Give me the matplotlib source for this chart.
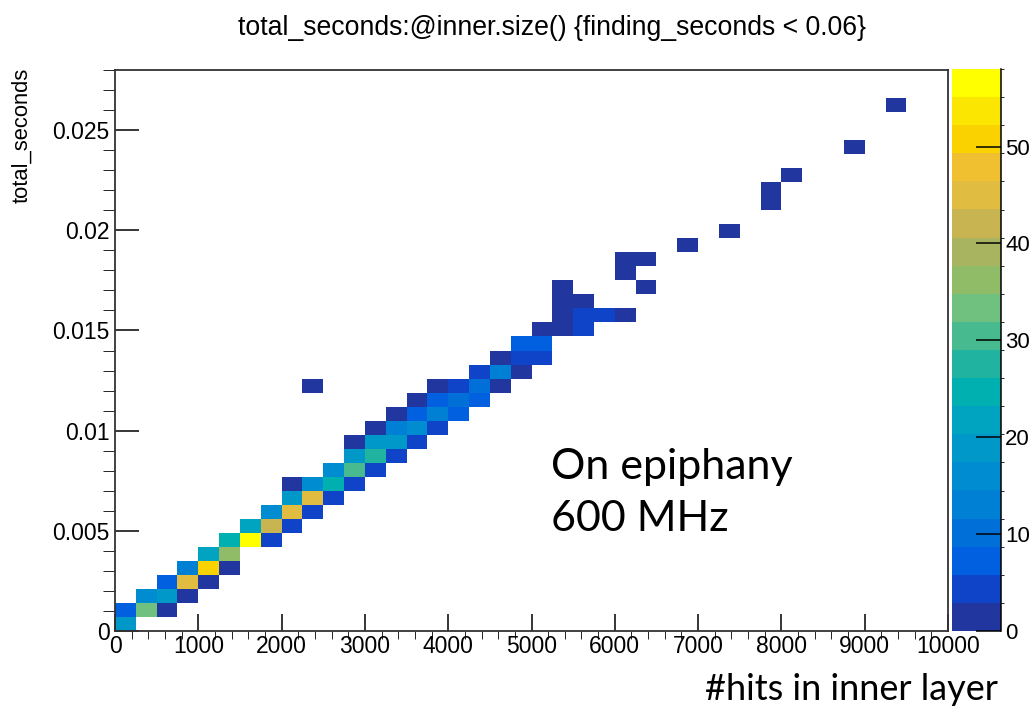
import matplotlib
matplotlib.use("Agg")
import matplotlib.pyplot as plt
import numpy as np
from matplotlib.colors import ListedColormap, BoundaryNorm
from matplotlib.ticker import MultipleLocator, FuncFormatter

# 2D histogram content: bin centres and entries
hits = (
    [125, 125, 375, 375, 625, 625, 625, 875, 875, 875, 1125, 1125, 1125,
     1375, 1375, 1375, 1625, 1625, 1875, 1875, 1875, 2125, 2125, 2125, 2125,
     2375, 2375, 2375, 2375, 2625, 2625, 2625, 2875, 2875, 2875, 2875,
     3125, 3125, 3125, 3125, 3375, 3375, 3375, 3375, 3625, 3625, 3625, 3625,
     3875, 3875, 3875, 3875, 4125, 4125, 4125, 4375, 4375, 4375,
     4625, 4625, 4625, 4875, 4875, 4875, 5125, 5125, 5125,
     5375, 5375, 5375, 5375, 5625, 5625, 5625, 5875, 6125, 6125, 6125,
     6375, 6375, 6875, 7375, 7875, 7875, 8125, 8875, 9375]
)
seconds = (
    [0.00035, 0.00105, 0.00105, 0.00175, 0.00105, 0.00175, 0.00245,
     0.00175, 0.00245, 0.00315, 0.00245, 0.00315, 0.00385,
     0.00315, 0.00385, 0.00455, 0.00455, 0.00525, 0.00455, 0.00525, 0.00595,
     0.00525, 0.00595, 0.00665, 0.00735,
     0.00595, 0.00665, 0.00735, 0.01225, 0.00665, 0.00735, 0.00805,
     0.00735, 0.00805, 0.00875, 0.00945,
     0.00805, 0.00875, 0.00945, 0.01015, 0.00875, 0.00945, 0.01015, 0.01085,
     0.00945, 0.01015, 0.01085, 0.01155,
     0.01015, 0.01085, 0.01155, 0.01225, 0.01085, 0.01155, 0.01225,
     0.01155, 0.01225, 0.01295, 0.01225, 0.01295, 0.01365,
     0.01295, 0.01365, 0.01435, 0.01365, 0.01435, 0.01505,
     0.01505, 0.01575, 0.01645, 0.01715, 0.01505, 0.01575, 0.01645,
     0.01575, 0.01575, 0.01785, 0.01855, 0.01715, 0.01855,
     0.01925, 0.01995, 0.02135, 0.02205, 0.02275, 0.02415, 0.02625]
)
entries = (
    [19, 7, 33, 15, 2, 19, 7, 2, 46, 13, 2, 51, 21,
     2, 36, 24, 58, 21, 4, 42, 15, 4, 46, 19, 2,
     4, 46, 15, 1, 4, 24, 16, 4, 30, 19, 2,
     4, 27, 19, 2, 4, 19, 13, 2, 5, 15, 8, 2,
     4, 13, 8, 2, 8, 9, 4, 8, 11, 4,
     2, 13, 2, 1, 4, 7, 4, 7, 2,
     2, 2, 1, 1, 4, 4, 1, 4, 1, 1, 1,
     1, 1, 1, 1, 1, 1, 1, 1, 1]
)

x_edges = np.linspace(0, 10000, 41)
y_edges = np.linspace(0, 0.028, 41)
z_max = 58
n_levels = 20

# ROOT-like bird palette, bottom to top
palette = ['#2236a0', '#1044c8', '#0060e0', '#0070d8', '#0080d4', '#008cd0',
           '#0098c8', '#00a4c0', '#00b0b0', '#20b4a0', '#48ba90', '#70c080',
           '#90bc68', '#a8b460', '#c8b450', '#e0bc40', '#f0c030', '#fad200',
           '#fae600', '#ffff00']

H, _, _ = np.histogram2d(hits, seconds, bins=[x_edges, y_edges], weights=entries)
H = np.ma.masked_equal(H.T, 0)

W, Hpx = 1033, 709
fig = plt.figure(figsize=(W / 100, Hpx / 100), dpi=100)
ax = fig.add_axes([115 / W, 1 - 631 / Hpx, 833 / W, 561 / Hpx])
cax = fig.add_axes([952 / W, 1 - 631 / Hpx, 49 / W, 562 / Hpx])

cmap = ListedColormap(palette)
levels = np.linspace(0, z_max, n_levels + 1)
norm = BoundaryNorm(levels, cmap.N)
mesh = ax.pcolormesh(x_edges, y_edges, H, cmap=cmap, norm=norm)

tick_font = dict(family="Liberation Sans", size=16.5)

ax.set_xlim(0, 10000)
ax.set_ylim(0, 0.028)
ax.xaxis.set_major_locator(MultipleLocator(1000))
ax.xaxis.set_minor_locator(MultipleLocator(200))
ax.yaxis.set_major_locator(MultipleLocator(0.005))
ax.yaxis.set_minor_locator(MultipleLocator(0.001))
ax.yaxis.set_major_formatter(FuncFormatter(lambda v, p: "%g" % round(v, 4)))
ax.tick_params(direction="in", top=False, right=False, width=1.1, color="black")
ax.tick_params(axis="x", which="major", length=12.5, pad=3)
ax.tick_params(axis="x", which="minor", length=6)
ax.tick_params(axis="y", which="major", length=17, pad=4)
ax.tick_params(axis="y", which="minor", length=8.5)
for lab in ax.get_xticklabels() + ax.get_yticklabels():
    lab.set_fontfamily(tick_font["family"])
    lab.set_fontsize(tick_font["size"])
for sp in ax.spines.values():
    sp.set_linewidth(1.3)
    sp.set_color("#333333")

cbar = fig.colorbar(mesh, cax=cax, ticks=[0, 10, 20, 30, 40, 50])
cbar.outline.set_visible(False)
cax.axvline(1, color="black", lw=1.1, clip_on=False)
cax.tick_params(direction="in", length=18, width=1.1, color="black", pad=3)
for lab in cax.get_yticklabels():
    lab.set_fontfamily(tick_font["family"])
    lab.set_fontsize(16)

fig.text(552 / W, 1 - 28 / Hpx, "total_seconds:@inner.size() {finding_seconds < 0.06}",
         ha="center", va="center", family="Liberation Sans", size=19.2)
fig.text(22 / W, 1 - 68 / Hpx, "total_seconds", rotation=90, ha="center", va="top",
         family="Liberation Sans", size=15.8)

# annotations pasted on top of the ROOT canvas
fig.text(551 / W, 1 - 448 / Hpx, "On epiphany\n600 MHz", ha="left", va="top",
         family="Lato", size=31, linespacing=1.45)
fig.text(998 / W, 1 - 690 / Hpx, "#hits in inner layer", ha="right", va="center",
         family="Lato", size=26)

fig.savefig("out.png", dpi=100)
